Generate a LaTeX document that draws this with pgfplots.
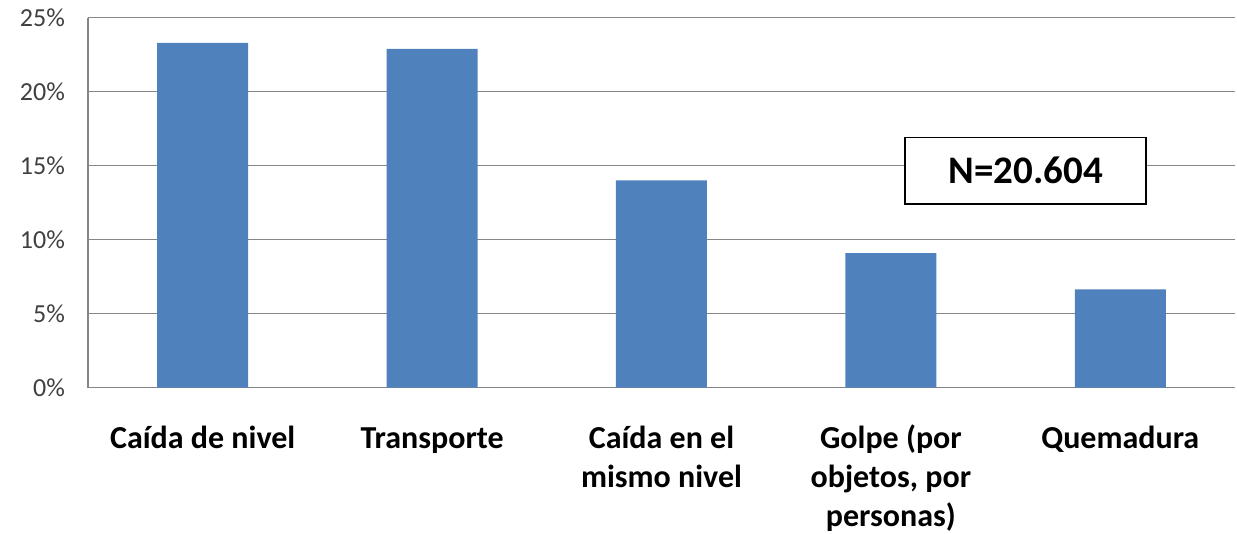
\documentclass[border=0pt]{standalone}
\usepackage{pgfplots}
\pgfplotsset{compat=1.18}
\usepackage{fontspec}
\setmainfont{Carlito}
\definecolor{barblue}{HTML}{4F81BD}
\definecolor{gridgray}{HTML}{868686}
\definecolor{ticktext}{HTML}{404040}
\begin{document}
\begin{tikzpicture}
\path[use as bounding box] (-44pt,-73.15pt) rectangle (574.5pt,193.85pt);
\begin{axis}[
  at={(0,0)}, anchor=south west,
  scale only axis,
  width=573.5pt, height=185pt,
  xmin=-0.5, xmax=4.5,
  ymin=0, ymax=25,
  axis x line*=bottom, axis y line*=left,
  axis line style={gridgray, line width=0.8pt},
  ymajorgrids,
  grid style={gridgray, line width=0.8pt},
  ytick={0,5,10,15,20,25},
  yticklabels={0\%,5\%,10\%,15\%,20\%,25\%},
  yticklabel style={font=\fontsize{13}{15}\selectfont, text=ticktext, xshift=-8pt},
  ytick style={gridgray, line width=0.8pt},
  major tick length=4pt,
  xtick=data,
  xticklabels={{\strut Caída de nivel}, {\strut Transporte}, {\strut Caída en el\\mismo nivel}, {\strut Golpe (por\\objetos, por\\personas)}, {\strut Quemadura}},
  xticklabel style={font=\bfseries\fontsize{16}{19.5}\selectfont, align=center, anchor=north, yshift=-13pt},
  xtick style={draw=none},
  /pgf/number format/assume math mode=true,
  clip=false,
]
\addplot[ybar, bar width=45.5pt, fill=barblue, draw=none] coordinates {
  (0,23.3) (1,22.9) (2,14.0) (3,9.1) (4,6.65)
};
\draw[black, line width=0.9pt, fill=white] (axis cs:3.062,12.43) rectangle (axis cs:4.112,16.9);
\node[font=\bfseries\fontsize{19.5}{22}\selectfont] at (axis cs:3.587,14.66) {N=20.604};
\end{axis}
\end{tikzpicture}
\end{document}
